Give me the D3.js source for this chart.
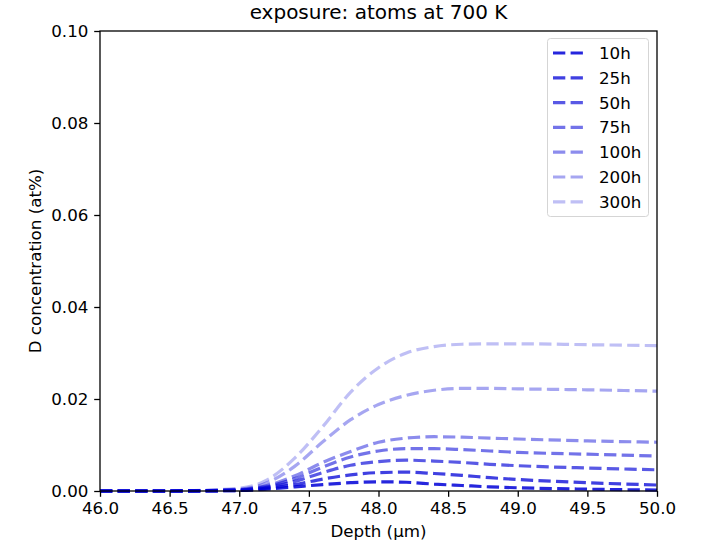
<!DOCTYPE html>
<html>
<head>
<meta charset="utf-8">
<script src="https://cdn.jsdelivr.net/npm/d3@7"></script>
<style>
  body { margin: 0; background: #fff; }
  svg { display: block; font-family: "DejaVu Sans", sans-serif; }
</style>
</head>
<body>
<svg id="chart" width="704" height="544"></svg>
<script>
// ---- data ----
const depth = [46.0, 46.5, 47.0, 47.2, 47.4, 47.6, 47.8, 48.0, 48.2, 48.4, 48.6, 48.8, 49.0, 49.5, 50.0];
const seriesNames = ["10h", "25h", "50h", "75h", "100h", "200h", "300h"];
const c10h  = [0, 0, 0.0001, 0.0004, 0.0009, 0.0014, 0.0018, 0.0020, 0.0019, 0.0015, 0.0012, 0.0009, 0.0007, 0.0004, 0.0002];
const c25h  = [0, 0, 0.0001, 0.0006, 0.0014, 0.0026, 0.0035, 0.0040, 0.0041, 0.0038, 0.0034, 0.0029, 0.0025, 0.0018, 0.0013];
const c50h  = [0, 0, 0.0002, 0.0008, 0.0021, 0.0040, 0.0056, 0.0064, 0.0067, 0.0065, 0.0062, 0.0058, 0.0055, 0.0050, 0.0046];
const c75h  = [0, 0, 0.0002, 0.0010, 0.0027, 0.0052, 0.0074, 0.0087, 0.0092, 0.0092, 0.0090, 0.0087, 0.0084, 0.0080, 0.0076];
const c100h = [0, 0, 0.0003, 0.0012, 0.0033, 0.0062, 0.0086, 0.0106, 0.0115, 0.0118, 0.0117, 0.0115, 0.0113, 0.0109, 0.0106];
const c200h = [0, 0, 0.0004, 0.0018, 0.0054, 0.0107, 0.0155, 0.0188, 0.0208, 0.0219, 0.0223, 0.0223, 0.0222, 0.0220, 0.0217];
const c300h = [0, 0, 0.0006, 0.0024, 0.0072, 0.0140, 0.0215, 0.0268, 0.0300, 0.0314, 0.0319, 0.0320, 0.0320, 0.0318, 0.0316];
const seriesValues = [c10h, c25h, c50h, c75h, c100h, c200h, c300h];
const xTicks = [46.0, 46.5, 47.0, 47.5, 48.0, 48.5, 49.0, 49.5, 50.0];
const yTicks = [0.00, 0.02, 0.04, 0.06, 0.08, 0.10];

// ---- layout ----
const svg = d3.select("#chart");
const pL = 100, pR = 657, pT = 31, pB = 491;
const x = d3.scaleLinear().domain([46, 50]).range([pL, pR]);
const y = d3.scaleLinear().domain([0, 0.10]).range([pB, pT]);
const alphas = [0.85, 0.75, 0.65, 0.55, 0.45, 0.35, 0.25];
const baseColor = "rgb(0,0,215)";
const dash = "12.3,5.3";
const lw = 3.2;

svg.append("clipPath").attr("id", "clip")
  .append("rect").attr("x", pL).attr("y", pT - 2).attr("width", pR - pL).attr("height", pB - pT + 4);
const plot = svg.append("g").attr("clip-path", "url(#clip)");

const line = d3.line().x((d, i) => x(depth[i])).y(d => y(d)).curve(d3.curveMonotoneX);
seriesValues.forEach((vals, k) => {
  plot.append("path")
    .attr("d", line(vals))
    .attr("fill", "none")
    .attr("stroke", baseColor)
    .attr("stroke-opacity", alphas[k])
    .attr("stroke-width", lw)
    .attr("stroke-dasharray", dash);
});

// axes
const fs = 16.7;
const xAxis = d3.axisBottom(x).tickValues(xTicks).tickFormat(d3.format(".1f")).tickSizeOuter(0).tickSize(5.8).tickPadding(5.8);
const yAxis = d3.axisLeft(y).tickValues(yTicks).tickFormat(d3.format(".2f")).tickSizeOuter(0).tickSize(5.8).tickPadding(5.8);
const gx = svg.append("g").attr("transform", `translate(0,${pB})`).call(xAxis);
const gy = svg.append("g").attr("transform", `translate(${pL},0)`).call(yAxis);
[gx, gy].forEach(g => {
  g.select(".domain").remove();
  g.selectAll(".tick line").attr("stroke", "#000").attr("stroke-width", 1.3);
  g.selectAll(".tick text").attr("fill", "#000").style("font-size", fs + "px").style("font-family", "DejaVu Sans");
});

// frame
svg.append("rect").attr("x", pL).attr("y", pT).attr("width", pR - pL).attr("height", pB - pT)
  .attr("fill", "none").attr("stroke", "#000").attr("stroke-width", 1.3);

// labels
svg.append("text").attr("x", (pL + pR) / 2).attr("y", 537).attr("text-anchor", "middle")
  .style("font-size", fs + "px").text("Depth (µm)");
svg.append("text").attr("transform", `translate(41,${(pT + pB) / 2}) rotate(-90)`).attr("text-anchor", "middle")
  .style("font-size", fs + "px").text("D concentration (at%)");
svg.append("text").attr("x", (pL + pR) / 2).attr("y", 19).attr("text-anchor", "middle")
  .style("font-size", "20px").text("exposure: atoms at 700 K");

// legend
const lg = svg.append("g");
lg.append("rect").attr("x", 547.5).attr("y", 38.5).attr("width", 101).attr("height", 178).attr("rx", 3)
  .attr("fill", "#fff").attr("fill-opacity", 0.8).attr("stroke", "#d5d5d5").attr("stroke-width", 1);
seriesNames.forEach((name, k) => {
  const yy = 53 + k * 24.8;
  lg.append("line").attr("x1", 553).attr("x2", 586).attr("y1", yy).attr("y2", yy)
    .attr("stroke", baseColor).attr("stroke-opacity", alphas[k]).attr("stroke-width", lw).attr("stroke-dasharray", dash);
  lg.append("text").attr("x", 599).attr("y", yy + 6).style("font-size", fs + "px").text(name);
});
</script>
</body>
</html>
